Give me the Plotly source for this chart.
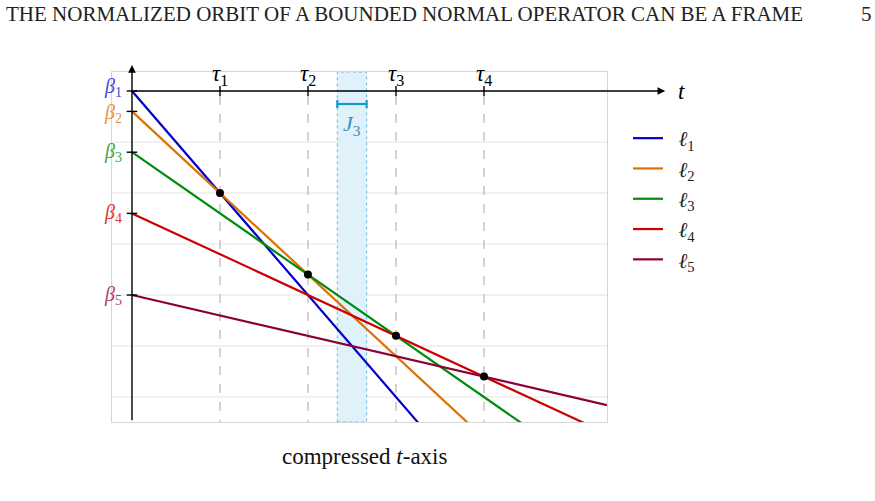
import numpy as np
import plotly.graph_objects as go

# ---- data ----
beta = [0.0, -0.4, -1.2, -2.4, -4.0]          # intercepts beta_k
slope = [-2.0, -1.6, -1.2, -0.8, -0.4]        # slopes of l_k
line_labels = ["1", "2", "3", "4", "5"]
tau_labels = ["1", "2", "3", "4"]
j3_interval = [7 / 3, 8 / 3]
grid_y = [-1, -2, -3, -4, -5, -6]
header_text = "THE NORMALIZED ORBIT OF A BOUNDED NORMAL OPERATOR CAN BE A FRAME"
page_number = "5"
caption_text = "compressed <i>t</i>-axis"

# ---- styles ----
line_colors = ["#0000c8", "#e07000", "#008c0a", "#cc0000", "#8b0036"]
label_colors = ["#4848dc", "#ee8f3c", "#3aa83a", "#dd3535", "#b0406a"]
beta_label_shift = [4, -2, 0, 0, 0]
x_range = [-0.227, 5.398]
y_range = [-6.49, 0.3725]
FONT = "Liberation Serif"

beta_a = np.array(beta)
slope_a = np.array(slope)
# breakpoints tau_k = intersection of l_k and l_{k+1}
tau = (beta_a[1:] - beta_a[:-1]) / (slope_a[:-1] - slope_a[1:])
tau_y = beta_a[:-1] + slope_a[:-1] * tau

fig = go.Figure()

xs = np.array([0.0, x_range[1]])
for k in range(5):
    fig.add_trace(go.Scatter(
        x=xs, y=beta_a[k] + slope_a[k] * xs, mode="lines",
        line=dict(color=line_colors[k], width=2.2),
        name="&nbsp;&nbsp;<i>ℓ</i><sub>%s</sub>" % line_labels[k],
        hoverinfo="skip",
    ))

fig.add_trace(go.Scatter(
    x=tau, y=tau_y, mode="markers",
    marker=dict(color="black", size=8), showlegend=False, hoverinfo="skip",
))

shapes = []
# grid lines
for g in grid_y:
    shapes.append(dict(type="line", xref="paper", yref="y", x0=0, x1=1, y0=g, y1=g,
                       line=dict(color="#e4e4e4", width=1), layer="below"))
# J3 band
shapes.append(dict(type="rect", xref="x", yref="paper", x0=j3_interval[0], x1=j3_interval[1],
                   y0=0, y1=1, fillcolor="#dff1fa", line=dict(color="#6fb6d9", width=1, dash="dot"),
                   layer="below"))
# dashed tau lines
for t in tau:
    shapes.append(dict(type="line", xref="x", yref="y", x0=t, x1=t, y0=-0.1, y1=y_range[0],
                       line=dict(color="#b5b5b5", width=1.2, dash="dash"), layer="below"))
# tau ticks
for t in tau:
    shapes.append(dict(type="line", xref="x", yref="y", x0=t, x1=t, y0=0.1, y1=-0.1,
                       line=dict(color="black", width=1.4), layer="above"))
# beta ticks
for b in beta:
    shapes.append(dict(type="line", xref="x", yref="y", x0=-0.06, x1=0.06, y0=b, y1=b,
                       line=dict(color="black", width=1.4), layer="above"))
# J3 bracket
jy = -0.255
shapes.append(dict(type="line", xref="x", yref="y", x0=j3_interval[0], x1=j3_interval[1], y0=jy, y1=jy,
                   line=dict(color="#1a98cc", width=2.2), layer="above"))
for xj in j3_interval:
    shapes.append(dict(type="line", xref="x", yref="y", x0=xj, x1=xj, y0=jy + 0.08, y1=jy - 0.08,
                       line=dict(color="#1a98cc", width=2.2), layer="above"))

annotations = []
# axes with arrows
annotations.append(dict(xref="x", yref="y", axref="x", ayref="y", x=6.06, y=0, ax=0, ay=0,
                        text="", showarrow=True, arrowhead=2, arrowsize=1.1, arrowwidth=1.4,
                        arrowcolor="black", standoff=0, startstandoff=0))
annotations.append(dict(xref="x", yref="y", axref="x", ayref="y", x=0, y=0.51, ax=0, ay=-6.485,
                        text="", showarrow=True, arrowhead=2, arrowsize=1.1, arrowwidth=1.4,
                        arrowcolor="black", standoff=0, startstandoff=0))
# t label
annotations.append(dict(xref="paper", yref="y", x=(681 - 112) / 495, y=0, xanchor="center",
                        yanchor="middle", text="<i>t</i>", showarrow=False,
                        font=dict(size=23, color="black", family=FONT)))
# beta labels
for k, b in enumerate(beta):
    annotations.append(dict(xref="x", yref="y", x=0, y=b, xanchor="right", yanchor="middle",
                            xshift=-8, yshift=beta_label_shift[k],
                            text="<i>β</i><sub>%s</sub>" % line_labels[k], showarrow=False,
                            font=dict(size=20, color=label_colors[k], family=FONT)))
# tau labels
for k, t in enumerate(tau):
    annotations.append(dict(xref="x", yref="y", x=t, y=0, yshift=16, xanchor="center",
                            yanchor="middle",
                            text="<i>τ</i><sub>%s</sub>" % tau_labels[k], showarrow=False,
                            font=dict(size=23, color="black", family=FONT)))
# J3 label
annotations.append(dict(xref="x", yref="y", x=sum(j3_interval) / 2, y=-0.66, xanchor="center",
                        yanchor="middle", text="<i>J</i><sub>3</sub>", showarrow=False,
                        font=dict(size=22, color="#3d8db5", family=FONT)))
# caption
annotations.append(dict(xref="paper", yref="paper", x=(364 - 112) / 495, y=(422 - 456) / 350,
                        xanchor="center", yanchor="middle", text=caption_text, showarrow=False,
                        font=dict(size=23, color="#111", family=FONT)))
# header
annotations.append(dict(xref="paper", yref="paper", x=(4 - 112) / 495, y=(422 - 14) / 350,
                        xanchor="left", yanchor="middle", text=header_text, showarrow=False,
                        font=dict(size=21, color="#222", family=FONT)))
annotations.append(dict(xref="paper", yref="paper", x=(866 - 112) / 495, y=(422 - 14) / 350,
                        xanchor="center", yanchor="middle", text=page_number, showarrow=False,
                        font=dict(size=21, color="#222", family=FONT)))

fig.update_layout(
    width=875, height=501,
    margin=dict(l=112, r=268, t=72, b=79),
    paper_bgcolor="white", plot_bgcolor="white",
    font=dict(family=FONT, size=21, color="black"),
    shapes=shapes, annotations=annotations,
    showlegend=True,
    legend=dict(x=(628 - 112) / 495, y=(422 - 118) / 350, xanchor="left", yanchor="top",
                font=dict(size=21, family=FONT, color="#222"), bgcolor="rgba(0,0,0,0)",
                itemwidth=30),
    xaxis=dict(range=x_range, showgrid=False, zeroline=False, showticklabels=False, ticks="",
               showline=True, mirror=True, linecolor="#d6d6d6", linewidth=1, fixedrange=True),
    yaxis=dict(range=y_range, showgrid=False, zeroline=False, showticklabels=False, ticks="",
               showline=True, mirror=True, linecolor="#d6d6d6", linewidth=1, fixedrange=True),
)

fig.write_html("out.html")
